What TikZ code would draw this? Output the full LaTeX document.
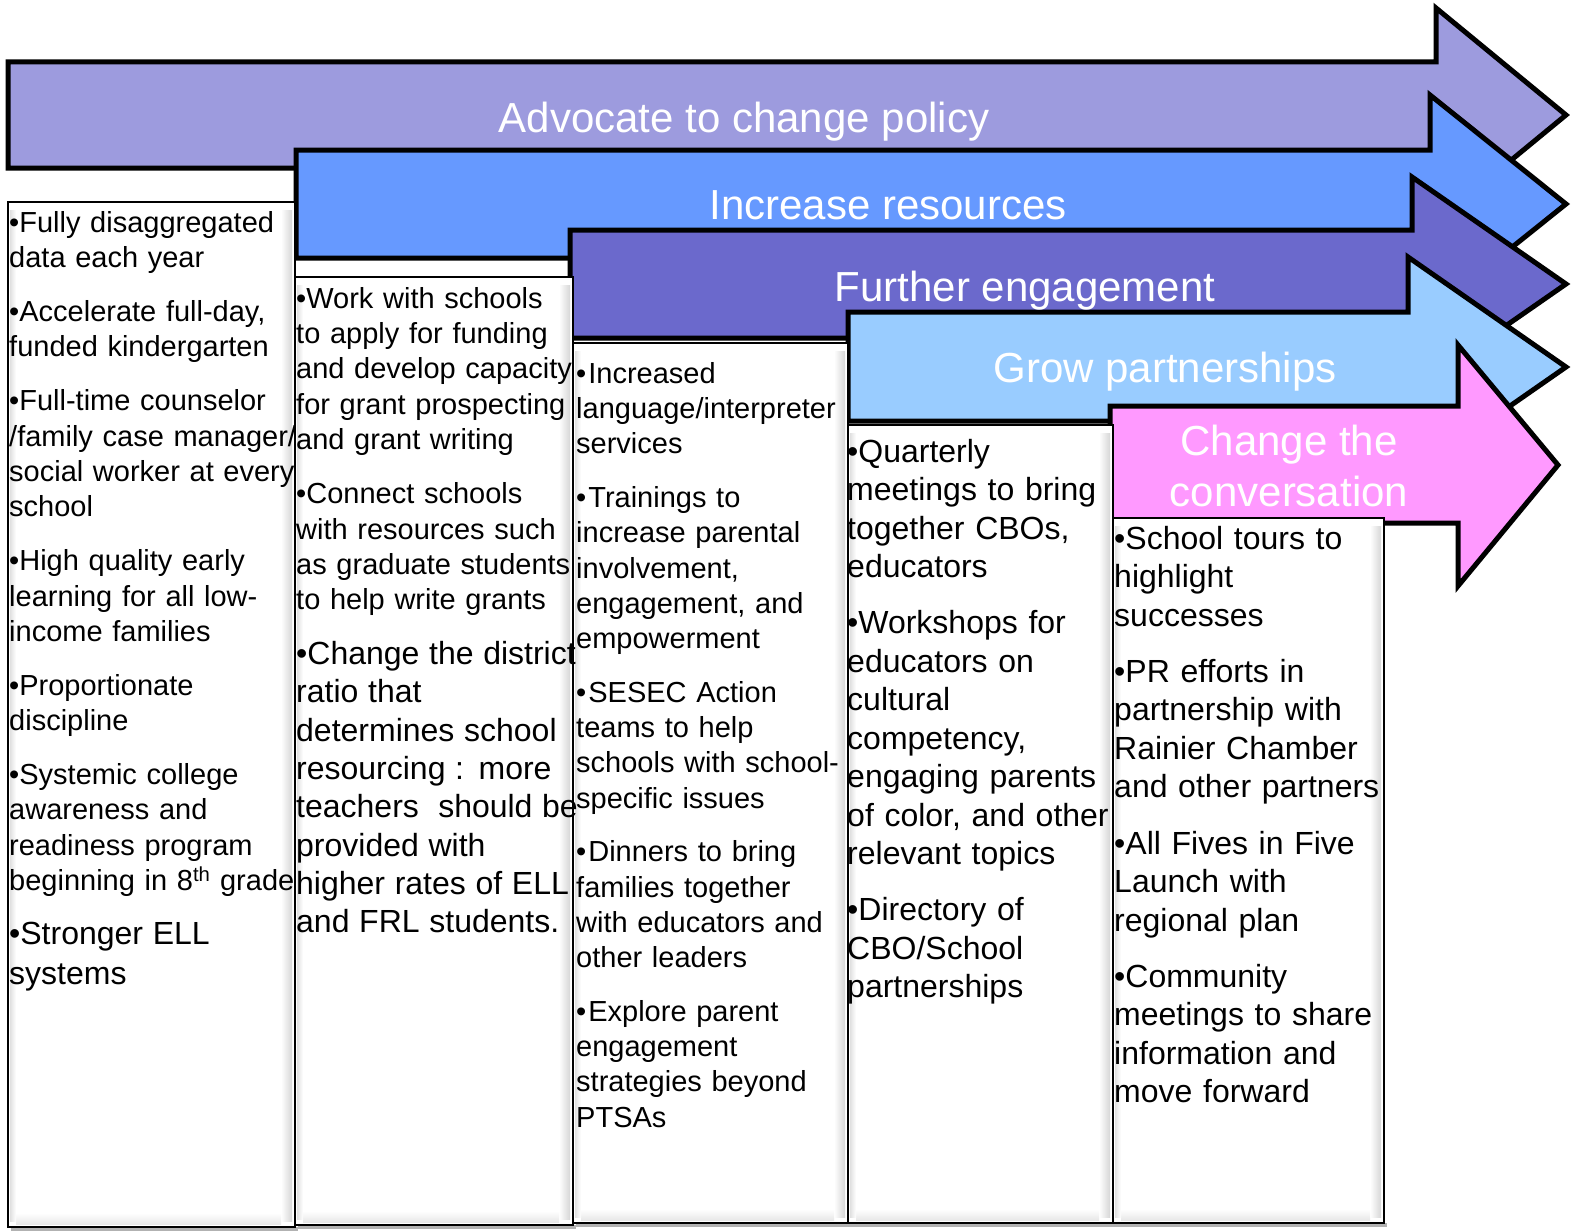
\documentclass[tikz,border=0pt]{standalone}
\usepackage{fontspec}
\setmainfont{Liberation Sans}
\usetikzlibrary{positioning}
\usepackage{xcolor}
\definecolor{advocate}{RGB}{157,155,222}
\definecolor{resources}{RGB}{102,153,255}
\definecolor{engage}{RGB}{107,105,204}
\definecolor{partner}{RGB}{153,204,255}
\definecolor{convo}{RGB}{255,153,255}
\setlength{\parindent}{0pt}

% white column with a soft bevel on the right and bottom
\newcommand{\colbox}[4]{%
  \fill[black!30] ({#1+3},#4) rectangle ({#3+3},{#4+4});
  \fill[white] (#1,#2) rectangle (#3,#4);
  \shade[left color=white,right color=black!16] ({#3-14},{#2+8}) rectangle ({#3-3},{#4-6});
  \shade[top color=white,bottom color=black!9] ({#1+8},{#4-14}) rectangle ({#3-14},{#4-3});
  \shade[left color=black!12,right color=white] ({#1+2},{#2+8}) rectangle ({#1+8},{#4-6});
  \draw[line width=2pt] (#1,#2) rectangle (#3,#4);}

\begin{document}
\begin{tikzpicture}[x=1pt,y=-1pt,line join=miter]
  \tikzstyle{flow arrow}=[draw=black,line width=5pt]
  \tikzstyle{banner}=[text=white,inner sep=0pt,font=\fontsize{42}{51}\selectfont]
  \tikzstyle{col text}=[anchor=north west,inner sep=0pt,text width=330pt,align=left]
  \tikzstyle{small}=[font=\fontsize{29}{35.3}\selectfont]
  \tikzstyle{large}=[font=\fontsize{32}{38.5}\selectfont]

  \useasboundingbox (0,0) rectangle (1571,1231);

  % the five arrows, later ones on top
  \draw[flow arrow,fill=advocate]  (8,62)    -- (1436,62)  -- (1436,8)   -- (1566,115) -- (1436,222) -- (1436,168) -- (8,168)    -- cycle;
  \draw[flow arrow,fill=resources] (296,150) -- (1430,150) -- (1430,95)  -- (1566,204) -- (1430,313) -- (1430,258) -- (296,258)  -- cycle;
  \draw[flow arrow,fill=engage]    (570,230) -- (1412,230) -- (1412,177) -- (1566,284) -- (1412,391) -- (1412,338) -- (570,338)  -- cycle;
  \draw[flow arrow,fill=partner]   (848,312) -- (1408,312) -- (1408,257) -- (1566,367) -- (1408,477) -- (1408,421) -- (848,421)  -- cycle;
  \draw[flow arrow,fill=convo]     (1110,406) -- (1458,406) -- (1458,345) -- (1558,465) -- (1458,586) -- (1458,523) -- (1110,523) -- cycle;

  \node[banner,anchor=base] (advocate) at (744,132)  {Advocate to change policy};
  \node[banner,anchor=base] (resources) at (888,219) {Increase resources};
  \node[banner,anchor=base] (engage) at (1025,301)   {Further engagement};
  \node[banner,anchor=base] (partner) at (1165,382)  {Grow partnerships};
  \node[banner,anchor=north,align=center] (convo) at (1289,419.3) {\strut Change the\\conversation};

  % columns
  \colbox{8}{202}{295}{1227}
  \colbox{295}{277}{573}{1225}
  \colbox{573}{343}{848}{1223}
  \colbox{848}{425}{1113}{1223}
  \colbox{1113}{518}{1384}{1223}

  \node[col text,small] (policy list) at (9,207.3) {\strut
    •Fully disaggregated\\data each year\par\vspace{18.7pt}
    •Accelerate full-day,\\funded kindergarten\par\vspace{18.7pt}
    •Full-time counselor\\/family case manager/\\social worker at every\\school\par\vspace{18.7pt}
    •High quality early\\learning for all low-\\income families\par\vspace{18.7pt}
    •Proportionate\\discipline\par\vspace{18.7pt}
    •Systemic college\\awareness and\\readiness program\\beginning in 8\textsuperscript{th} grade\par\vspace{14pt}
    {\fontsize{32}{40}\selectfont •Stronger ELL\\systems\par}};

  \node[col text,small] (resource list) at (296,283.3) {\strut
    •Work with schools\\to apply for funding\\and develop capacity\\for grant prospecting\\and grant writing\par\vspace{19pt}
    •Connect schools\\with resources such\\as graduate students\\to help write grants\par\vspace{16.7pt}
    {\fontsize{32}{38.3}\selectfont •Change the district\\ratio that\\determines school\\resourcing : more\\teachers\ \ should be\\provided with\\higher rates of ELL\\and FRL students.\par}};

  \node[col text,small] (engage list) at (576,358.3) {\strut
    •\kern2pt Increased\\language/interpreter\\services\par\vspace{18.3pt}
    •\kern2pt Trainings to\\increase parental\\involvement,\\engagement, and\\empowerment\par\vspace{18.3pt}
    •\kern2pt SESEC Action\\teams to help\\schools with school-\\specific issues\par\vspace{18.3pt}
    •\kern2pt Dinners to bring\\families together\\with educators and\\other leaders\par\vspace{18.3pt}
    •\kern2pt Explore parent\\engagement\\strategies beyond\\PTSAs\par};

  \node[col text,large] (partner list) at (847,435) {\strut
    •Quarterly\\meetings to bring\\together CBOs,\\educators\par\vspace{17.5pt}
    •Workshops for\\educators on\\cultural\\competency,\\engaging parents\\of color, and other\\relevant topics\par\vspace{17.5pt}
    •Directory of\\CBO/School\\partnerships\par};

  \node[col text,large] (convo list) at (1114,522) {\strut
    •School tours to\\highlight\\successes\par\vspace{17.7pt}
    •PR efforts in\\partnership with\\Rainier Chamber\\and other partners\par\vspace{17.7pt}
    •All Fives in Five\\Launch with\\regional plan\par\vspace{17.7pt}
    •Community\\meetings to share\\information and\\move forward\par};
\end{tikzpicture}
\end{document}
